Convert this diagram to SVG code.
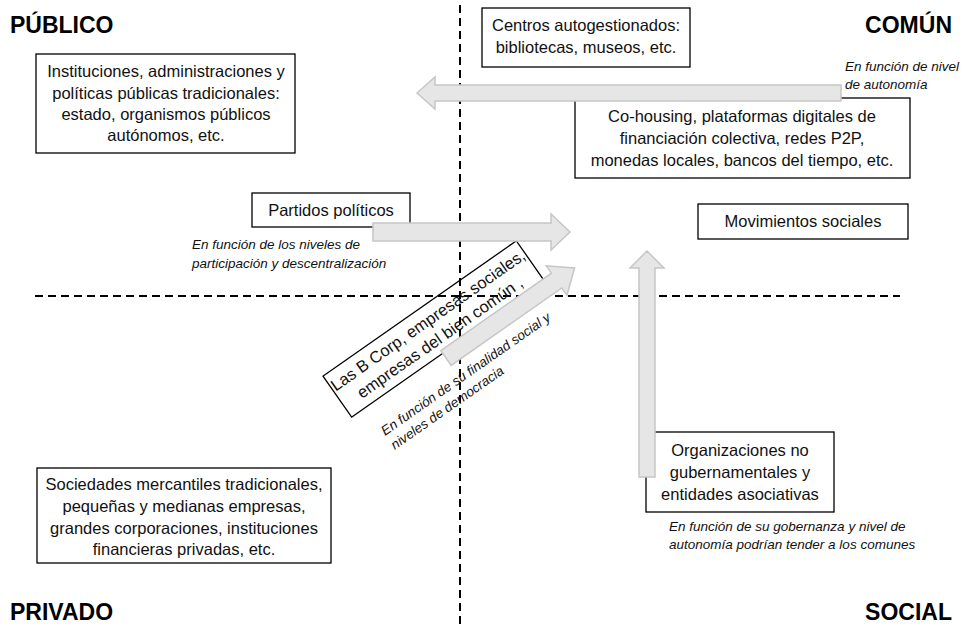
<svg xmlns="http://www.w3.org/2000/svg" width="967" height="624" viewBox="0 0 967 624">
<style>
.title{font-family:"Liberation Sans",Arial,sans-serif;font-weight:bold;font-size:23px;fill:#000}
.t{font-family:"Liberation Sans",Arial,sans-serif;font-size:16.5px;fill:#111;text-anchor:middle}
.it{font-family:"Liberation Sans",Arial,sans-serif;font-size:13.5px;font-style:italic;fill:#111}
.box{fill:#fff;stroke:#000;stroke-width:1.3}
.nofill{fill:none;stroke:#000;stroke-width:1.3}
.axis{stroke:#000;stroke-width:2;stroke-dasharray:8 5;fill:none}
.arrow{fill:#e6e6e6;stroke:#c6c6c6;stroke-width:1.5;stroke-linejoin:miter}
</style>
<rect width="967" height="624" fill="#fff"/>
<g id="axes">
<line class="axis" x1="460" y1="5" x2="460" y2="624"/>
<line class="axis" x1="35" y1="296" x2="900" y2="296"/>
</g>
<g id="titles">
<text class="title" x="10" y="33">PÚBLICO</text>
<text class="title" x="952" y="33" text-anchor="end">COMÚN</text>
<text class="title" x="10" y="620">PRIVADO</text>
<text class="title" x="952" y="620" text-anchor="end">SOCIAL</text>
</g>
<g id="n-instituciones">
<rect class="box" x="36" y="54" width="259" height="99"/>
<text class="t" x="166" y="77">Instituciones, administraciones y</text>
<text class="t" x="166" y="99">políticas públicas tradicionales:</text>
<text class="t" x="166" y="120">estado, organismos públicos</text>
<text class="t" x="166" y="141">autónomos, etc.</text>
</g>
<g id="n-centros">
<rect class="box" x="482" y="8" width="208" height="59"/>
<text class="t" x="586" y="31">Centros autogestionados:</text>
<text class="t" x="586" y="53">bibliotecas, museos, etc.</text>
</g>
<g id="n-cohousing">
<rect class="box" x="575" y="98" width="335" height="80"/>
<text class="t" x="742" y="122">Co-housing, plataformas digitales de</text>
<text class="t" x="742" y="144">financiación colectiva, redes P2P,</text>
<text class="t" x="742" y="166">monedas locales, bancos del tiempo, etc.</text>
</g>
<g id="n-partidos">
<rect class="box" x="252" y="193" width="158" height="34"/>
<text class="t" x="331" y="216">Partidos políticos</text>
</g>
<g id="n-movimientos">
<rect class="box" x="698" y="204" width="210" height="35"/>
<text class="t" x="803" y="227">Movimientos sociales</text>
</g>
<g id="n-bcorp" transform="translate(434,329) rotate(-35)">
<rect class="nofill" x="-118" y="-25" width="236" height="50"/>
<text class="t" x="0" y="-5">Las B Corp, empresas sociales,</text>
<text class="t" x="0" y="16">empresas del bien común ,</text>
</g>
<g id="n-ong">
<rect class="box" x="646" y="432" width="188" height="80"/>
<text class="t" x="740" y="456">Organizaciones no</text>
<text class="t" x="740" y="478">gubernamentales y</text>
<text class="t" x="740" y="500">entidades asociativas</text>
</g>
<g id="n-sociedades">
<rect class="box" x="37" y="468" width="294" height="95"/>
<text class="t" x="184" y="490">Sociedades mercantiles tradicionales,</text>
<text class="t" x="184" y="512">pequeñas y medianas empresas,</text>
<text class="t" x="184" y="534">grandes corporaciones,  instituciones</text>
<text class="t" x="184" y="555">financieras privadas, etc.</text>
</g>
<g id="connectors">
<polygon class="arrow" points="417,93 435,77 435,85 841,85 841,101 435,101 435,109"/>
<polygon class="arrow" points="373,223 551,223 551,214 570,232 551,250 551,241 373,241"/>
<polygon class="arrow" points="647,251 664,268 655,268 655,477 639,477 639,268 630,268"/>
<polygon class="arrow" transform="translate(446,358) rotate(-35)" points="0,-9 135,-9 135,-18 157,0 135,18 135,9 0,9"/>
</g>
<g id="labels">
<text class="it" x="845" y="71">En función de nivel</text>
<text class="it" x="845" y="89">de autonomía</text>
<text class="it" x="192" y="249">En función de los niveles de</text>
<text class="it" x="192" y="268">participación y descentralización</text>
<text class="it" x="669" y="531">En función de su gobernanza y nivel de</text>
<text class="it" x="669" y="549">autonomía podrían tender a los comunes</text>
<g transform="translate(385,436) rotate(-35)">
<text class="it" x="0" y="0">En función de su finalidad social y</text>
<text class="it" x="0" y="17">niveles de democracia</text>
</g>
</g>
</svg>
